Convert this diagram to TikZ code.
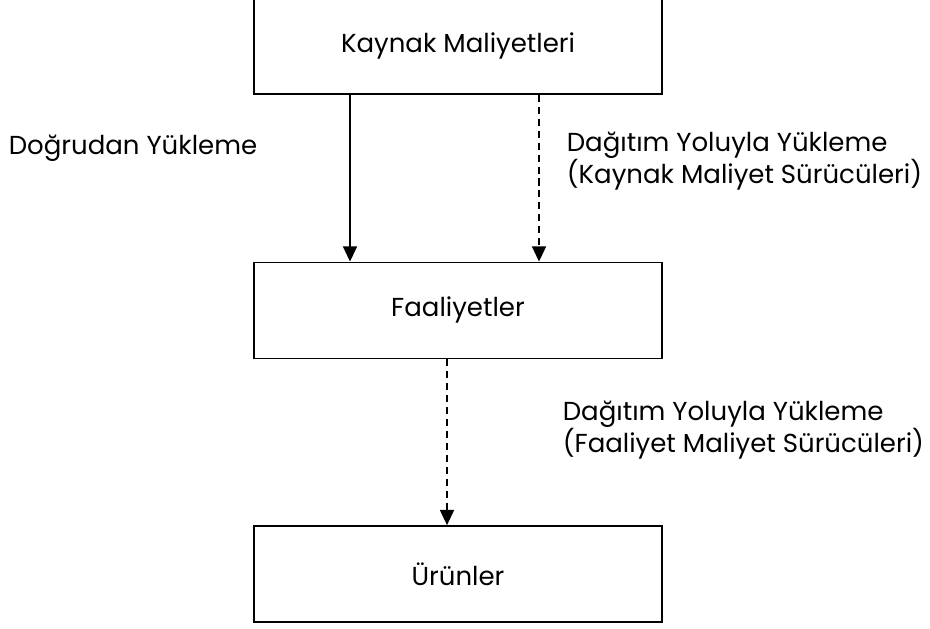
\documentclass[tikz,border=0pt]{standalone}
\usepackage{fontspec}
\setmainfont{Poppins}
\usetikzlibrary{positioning, arrows.meta}

\begin{document}
\begin{tikzpicture}[-{Triangle[length=3.8mm, width=3.5mm]}, line width=1.2pt,
      inner sep=0pt, font=\fontsize{18.5}{22.8}\selectfont,
      kutu/.style={rectangle, draw, minimum width=10.2cm, minimum height=2.4cm},
      kesik/.style={dash pattern=on 5pt off 3.5pt},
      yazi/.style={anchor=west, align=left}]
      \clip (0,0) rectangle (23.25,-15.7);
      % kutular
      \node[kutu] (kaynak) at(11.45,-1.15) {Kaynak Maliyetleri};
      \node[kutu] (faaliyet) at(11.45,-7.76) {Faaliyetler};
      \node[kutu] (urun) at(11.45,-14.35) {Ürünler};
      % kaynak -> faaliyet
      \path ([xshift=-2.7cm]kaynak.south) edge ([xshift=-2.7cm]faaliyet.north);
      \path ([xshift=2.025cm]kaynak.south) edge[kesik] ([xshift=2.025cm]faaliyet.north);
      \node[yazi] (dogrudan) at(0.2,-3.7) {Doğrudan Yükleme};
      \node[yazi] (dagitim_1) at(14.15,-4.03) {Dağıtım Yoluyla Yükleme\\(Kaynak Maliyet Sürücüleri)};
      % faaliyet -> urun
      \path ([xshift=-0.275cm]faaliyet.south) edge[kesik] ([xshift=-0.275cm]urun.north);
      \node[yazi] (dagitim_2) at(14.05,-10.75) {Dağıtım Yoluyla Yükleme\\(Faaliyet Maliyet Sürücüleri)};
\end{tikzpicture}
\end{document}
